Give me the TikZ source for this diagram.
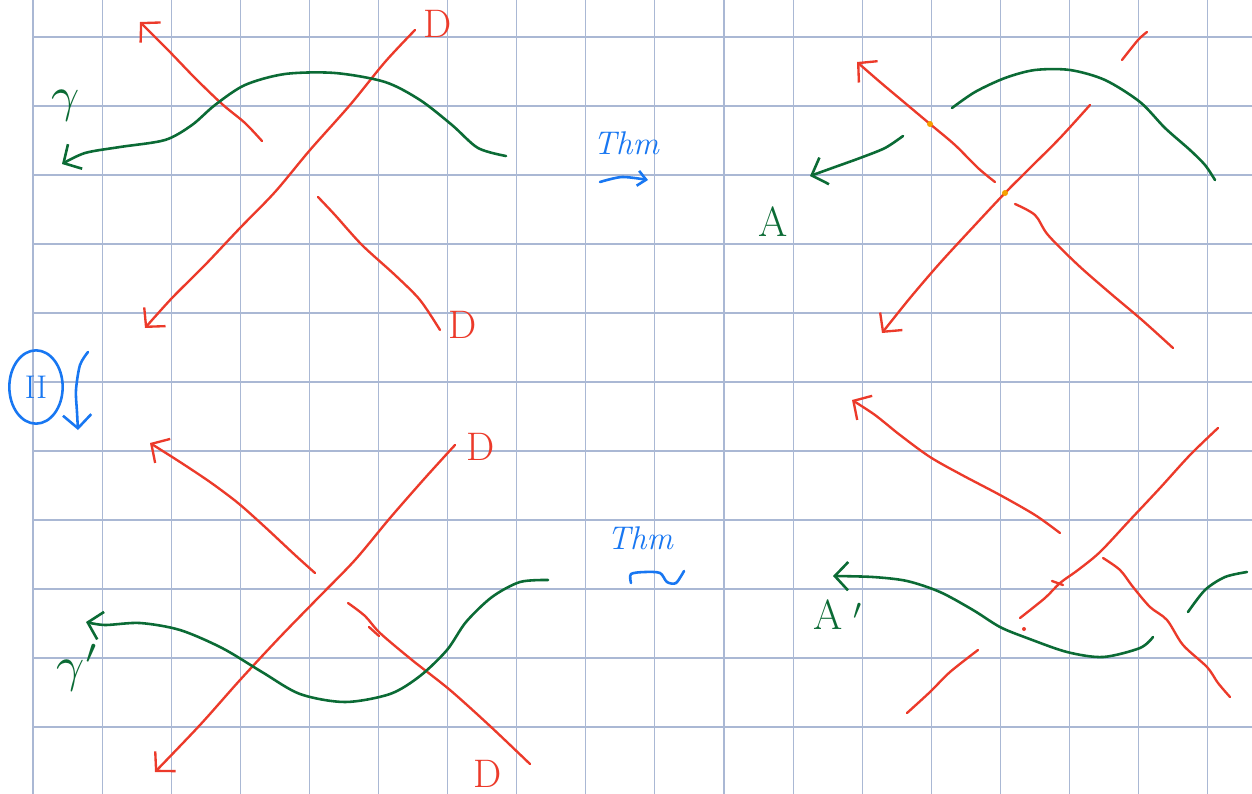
\documentclass[tikz,border=0pt]{standalone}
\usepackage{tikz}
\usetikzlibrary{arrows.meta, shapes.geometric}

\definecolor{gridblue}{HTML}{AAB8D4}
\definecolor{inkred}{HTML}{EC3A2A}
\definecolor{inkgreen}{HTML}{0B6B35}
\definecolor{inkblue}{HTML}{1877F2}
\definecolor{inkorange}{HTML}{F5A000}

\begin{document}
\begin{tikzpicture}[x=0.3mm, y=-0.3mm,
        gridline/.style={draw=gridblue, line width=0.9pt},
        redink/.style={draw=inkred, line width=2pt, line cap=round, line join=round},
        greenink/.style={draw=inkgreen, line width=2.2pt, line cap=round, line join=round},
        blueink/.style={draw=inkblue, line width=2.2pt, line cap=round, line join=round},
        barb/.style={-{Straight Barb[length=4mm, width=8.5mm]}},
        smallbarb/.style={-{Straight Barb[length=2.5mm, width=4.5mm]}},
        redlabel/.style={text=inkred, font=\fontsize{34}{36}\selectfont},
        greenlabel/.style={text=inkgreen, font=\fontsize{36}{38}\selectfont},
        greenmath/.style={text=inkgreen},
        bluelabel/.style={text=inkblue, font=\fontsize{28}{30}\selectfont\itshape}]
    \useasboundingbox (0,0) rectangle (1252,794);
    \fill[white] (0,0) rectangle (1252,794);

    % squared paper
    \foreach \i in {0,...,17}
        \draw[gridline] ({33+69.1*\i},0) -- ({33+69.1*\i},794);
    \foreach \j in {0,...,10}
        \draw[gridline] (33,{37+69*\j}) -- (1252,{37+69*\j});

    % top left
    \draw[redink, barb] plot[smooth] coordinates {(262,141) (245,123) (222,104) (195,78) (168,50) (140,22)};
    \draw[redink, barb] plot[smooth] coordinates {(415,30) (385,62) (350,105) (310,150) (275,192) (240,228) (205,265) (172,298) (145,328)};
    \draw[redink] plot[smooth] coordinates {(318,197) (335,215) (362,245) (395,275) (420,300) (440,330)};
    \draw[greenink, barb] plot[smooth] coordinates {(506,156) (478,148) (452,125) (420,100) (385,82) (335,73) (285,74) (245,85) (215,105) (192,125) (165,140) (120,147) (85,153) (62,164)};
    \node[greenmath] (gamma) at (66,106) {\scalebox{4.2}{$\gamma$}};
    \node[redlabel] (dTopA) at (438,24) {D};
    \node[redlabel] (dTopB) at (463,325) {D};

    % top right
    \draw[redink, barb] plot[smooth] coordinates {(995,182) (978,168) (955,145) (930,124) (905,103) (880,82) (857,62)};
    \draw[redink, barb] plot[smooth] coordinates {(1090,105) (1060,138) (1030,168) (1005,193) (975,225) (940,263) (910,298) (882,333)};
    \draw[redink] plot[smooth] coordinates {(1015,204) (1035,215) (1048,235) (1078,265) (1110,293) (1142,320) (1173,348)};
    \draw[redink] plot[smooth] coordinates {(1122,60) (1138,40) (1147,32)};
    \draw[greenink] plot[smooth] coordinates {(952,108) (975,92) (1005,78) (1035,70) (1070,70) (1105,80) (1140,102) (1165,128) (1190,150) (1205,165) (1215,180)};
    \draw[greenink, barb] plot[smooth] coordinates {(903,136) (885,148) (860,158) (835,167) (810,176)};
    \fill[inkorange] (930,124) circle (3);
    \fill[inkorange] (1005,193) circle (3);
    \node[greenlabel] (aTop) at (773,222) {A};

    % move between the two pictures
    \node[bluelabel] (thmTop) at (626,143) {Thm};
    \draw[blueink, smallbarb] plot[smooth] coordinates {(600,182) (622,177) (648,180)};
    \node[bluelabel] (thmBottom) at (640,538) {Thm};
    \draw[blueink] plot[smooth] coordinates {(631,583) (631,574) (645,572) (660,573) (667,582) (676,583) (684,571)};

    % circled II
    \node[draw=inkblue, line width=2.2pt, ellipse, minimum width=16mm, minimum height=22mm,
        inner sep=0pt, text=inkblue, font=\fontsize{28}{30}\selectfont] (caseTwo) at (36,387) {II};
    \draw[blueink, barb] plot[smooth] coordinates {(88,352) (80,365) (76,390) (77,412) (78,430)};

    % bottom left
    \draw[redink, barb] plot[smooth] coordinates {(315,573) (295,555) (265,527) (238,503) (210,482) (180,462) (150,443)};
    \draw[redink, barb] plot[smooth] coordinates {(455,445) (425,478) (390,518) (355,560) (318,598) (280,637) (240,680) (200,725) (155,772)};
    \draw[redink] plot[smooth] coordinates {(348,603) (365,616) (380,633) (412,660) (450,690) (490,726) (530,764)};
    \draw[redink] (369,627) -- (379,636);
    \draw[greenink, barb] plot[smooth] coordinates {(548,580) (520,582) (492,597) (466,622) (447,650) (420,676) (390,694) (345,702) (300,694) (262,672) (222,648) (180,630) (140,623) (105,625) (86,622)};
    \node[greenmath] (gammaPrime) at (78,668) {\scalebox{4.2}{$\gamma'$}};
    \node[redlabel] (dBottomA) at (481,447) {D};
    \node[redlabel] (dBottomB) at (488,774) {D};

    % bottom right
    \draw[redink, barb] plot[smooth] coordinates {(1060,533) (1035,515) (1000,495) (962,475) (930,457) (900,435) (875,415) (852,400)};
    \draw[redink] plot[smooth] coordinates {(1218,428) (1190,455) (1160,488) (1130,520) (1100,552) (1078,570) (1060,583) (1045,598) (1020,618)};
    \draw[redink] (1052,581) -- (1063,585);
    \fill[inkred] (1024,629) circle (2);
    \draw[redink] plot[smooth] coordinates {(978,650) (950,672) (930,692) (907,713)};
    \draw[redink] plot[smooth] coordinates {(1103,558) (1120,570) (1133,587) (1150,607) (1167,620) (1183,645) (1207,667) (1218,683) (1230,697)};
    \draw[greenink, barb] plot[smooth] coordinates {(1153,637) (1140,648) (1103,657) (1067,652) (1027,638) (1000,627) (973,610) (940,592) (907,581) (873,577) (833,576)};
    \draw[greenink] plot[smooth] coordinates {(1188,612) (1205,590) (1225,577) (1247,572)};
    \node[greenlabel] (aPrime) at (838,615) {A\hspace{0.25em}$'$};
\end{tikzpicture}
\end{document}
